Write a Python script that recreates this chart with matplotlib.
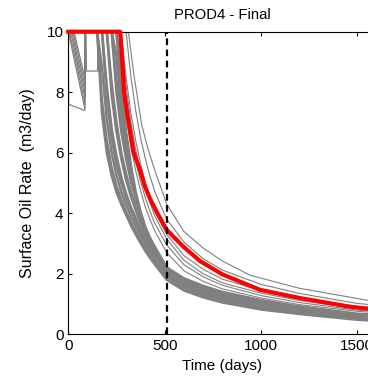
import numpy as np
import matplotlib
matplotlib.use("Agg")
import matplotlib.pyplot as plt

plt.rcParams['font.family'] = ['Liberation Sans', 'DejaVu Sans']

# shared time grid (days) for the ensemble runs
grid_t = [150, 175, 200, 225, 250, 275, 300, 325, 350, 375, 400, 425, 450, 511,
          600, 700, 800, 1000, 1200, 1500, 1800]

# dense band of runs (oil rate, m3/day) on grid_t
band_rates = [
    [10, 7.3, 6.0, 5.25, 4.7, 4.3, 3.95, 3.6, 3.3, 3.02, 2.75, 2.52, 2.3, 1.8, 1.45, 1.22, 1.05, 0.82, 0.67, 0.48, 0.38],
    [10, 7.7, 6.4, 5.5, 4.9, 4.45, 4.05, 3.7, 3.4, 3.12, 2.85, 2.62, 2.4, 1.9, 1.52, 1.28, 1.1, 0.86, 0.7, 0.51, 0.41],
    [10, 8.8, 7.1, 6.0, 5.25, 4.7, 4.28, 3.9, 3.57, 3.28, 3.0, 2.74, 2.5, 1.95, 1.55, 1.3, 1.12, 0.88, 0.72, 0.53, 0.43],
    [10, 10, 7.8, 6.5, 5.6, 5.0, 4.5, 4.1, 3.75, 3.4, 3.08, 2.8, 2.55, 1.98, 1.58, 1.33, 1.15, 0.9, 0.74, 0.55, 0.44],
    [10, 10, 8.2, 6.8, 5.9, 5.2, 4.65, 4.2, 3.85, 3.48, 3.15, 2.85, 2.6, 2.02, 1.62, 1.36, 1.18, 0.93, 0.76, 0.56, 0.45],
    [10, 10, 10, 7.9, 6.7, 5.8, 5.1, 4.55, 4.1, 3.68, 3.3, 2.98, 2.7, 2.06, 1.66, 1.4, 1.21, 0.95, 0.78, 0.58, 0.47],
    [10, 10, 10, 8.3, 7.0, 6.0, 5.3, 4.7, 4.2, 3.75, 3.35, 3.02, 2.74, 2.09, 1.69, 1.43, 1.24, 0.97, 0.8, 0.59, 0.48],
    [10, 10, 10, 10, 8.0, 6.7, 5.8, 5.05, 4.45, 3.92, 3.45, 3.1, 2.8, 2.12, 1.72, 1.47, 1.27, 1.0, 0.82, 0.61, 0.5],
    [10, 10, 10, 10, 8.4, 7.0, 6.0, 5.2, 4.55, 3.98, 3.5, 3.14, 2.83, 2.15, 1.75, 1.5, 1.3, 1.03, 0.84, 0.63, 0.51],
    [10, 10, 10, 10, 9.2, 7.5, 6.3, 5.35, 4.6, 4.0, 3.52, 3.16, 2.85, 2.17, 1.78, 1.53, 1.33, 1.05, 0.86, 0.64, 0.52],
    [10, 10, 10, 10, 10, 7.9, 6.4, 5.4, 4.6, 4.0, 3.5, 3.15, 2.86, 2.19, 1.81, 1.56, 1.36, 1.08, 0.89, 0.66, 0.54],
    [10, 10, 10, 10, 10, 8.3, 6.7, 5.6, 4.7, 4.05, 3.53, 3.17, 2.88, 2.21, 1.85, 1.6, 1.4, 1.13, 0.92, 0.68, 0.56],
]

# lighter runs between the band and the reference case
mid_rates = [
    [10, 10, 10, 10, 10, 8.6, 7.2, 6.2, 5.4, 4.75, 4.2, 3.78, 3.4, 2.7, 2.1, 1.75, 1.5, 1.2, 0.98, 0.76, 0.62],
    [10, 10, 10, 10, 10, 8.8, 7.5, 6.5, 5.7, 5.05, 4.5, 4.05, 3.65, 2.95, 2.3, 1.9, 1.62, 1.28, 1.05, 0.8, 0.66],
    [10, 10, 10, 10, 10, 10, 8.2, 7.0, 6.1, 5.4, 4.8, 4.32, 3.9, 3.15, 2.45, 2.0, 1.7, 1.36, 1.12, 0.85, 0.7],
    [10, 10, 10, 10, 10, 10, 8.5, 7.3, 6.4, 5.65, 5.0, 4.5, 4.05, 3.3, 2.6, 2.15, 1.82, 1.45, 1.2, 0.92, 0.75],
    [10, 10, 10, 10, 10, 10, 10, 8.5, 7.4, 6.5, 5.8, 5.2, 4.7, 3.8, 3.05, 2.5, 2.12, 1.65, 1.35, 1.02, 0.84],
]

# highest run
top_t = [0, 312, 340, 381, 415, 450, 511, 600, 700, 800, 944, 1200, 1556, 1800]
top_rate = [10, 10, 8.6, 6.92, 6.1, 5.4, 4.3, 3.4, 2.85, 2.42, 1.95, 1.52, 1.12, 0.97]

# early-time runs (before the band)
early_t = [
    [0, 86, 88],
    [6, 86, 88],
    [12, 86, 88],
    [18, 86, 88],
    [24, 86, 88],
    [30, 86, 88],
    [0, 2, 85, 87],
    [0, 92, 94, 152, 155],
]
early_rate = [
    [10, 7.45, 10],
    [10, 7.65, 10],
    [10, 7.85, 10],
    [10, 8.05, 10],
    [10, 8.25, 10],
    [10, 8.45, 10],
    [10, 7.6, 7.4, 10],
    [10, 10, 8.7, 8.7, 10],
]

# reference case (red)
ref_t = [0, 269, 280, 290, 311, 338, 372, 398, 428, 467, 511, 600, 684, 800, 995, 1200, 1463, 1800]
ref_rate = [10, 10, 9.0, 8.0, 7.08, 6.03, 5.43, 4.88, 4.43, 3.95, 3.45, 2.88, 2.42, 1.98, 1.47, 1.2, 0.91, 0.68]

t_final = 510

fig = plt.figure(figsize=(3.68, 3.81), dpi=100)
ax = fig.add_axes([0.1856, 0.1226, 0.8375, 0.7942])

gray = '#808080'
for row in band_rates:
    ax.plot(grid_t, row, color=gray, lw=1.8, solid_joinstyle='round')
for row in mid_rates:
    ax.plot(grid_t, row, color=gray, lw=0.8)
for tt, rr in zip(early_t, early_rate):
    ax.plot(tt, rr, color=gray, lw=0.9)
ax.plot(top_t, top_rate, color=gray, lw=0.8)

ax.plot(ref_t, ref_rate, color='red', lw=3.0, clip_on=False, zorder=5)
ax.axvline(t_final, color='black', lw=1.6, ls=(0, (3, 2)), zorder=6)

ax.set_xlim(0, 1600)
ax.set_ylim(0, 10)
ax.set_xticks([0, 500, 1000, 1500])
ax.set_yticks([0, 2, 4, 6, 8, 10])
ax.tick_params(direction='in', length=3, top=True, right=True, labelsize=11)
ax.set_title('PROD4 - Final', fontsize=10.7, pad=9)
ax.set_xlabel('Time (days)', fontsize=11, labelpad=4)
ax.set_ylabel('Surface Oil Rate  (m3/day)', fontsize=11.5, labelpad=8)

fig.savefig('out.png', dpi=100)
